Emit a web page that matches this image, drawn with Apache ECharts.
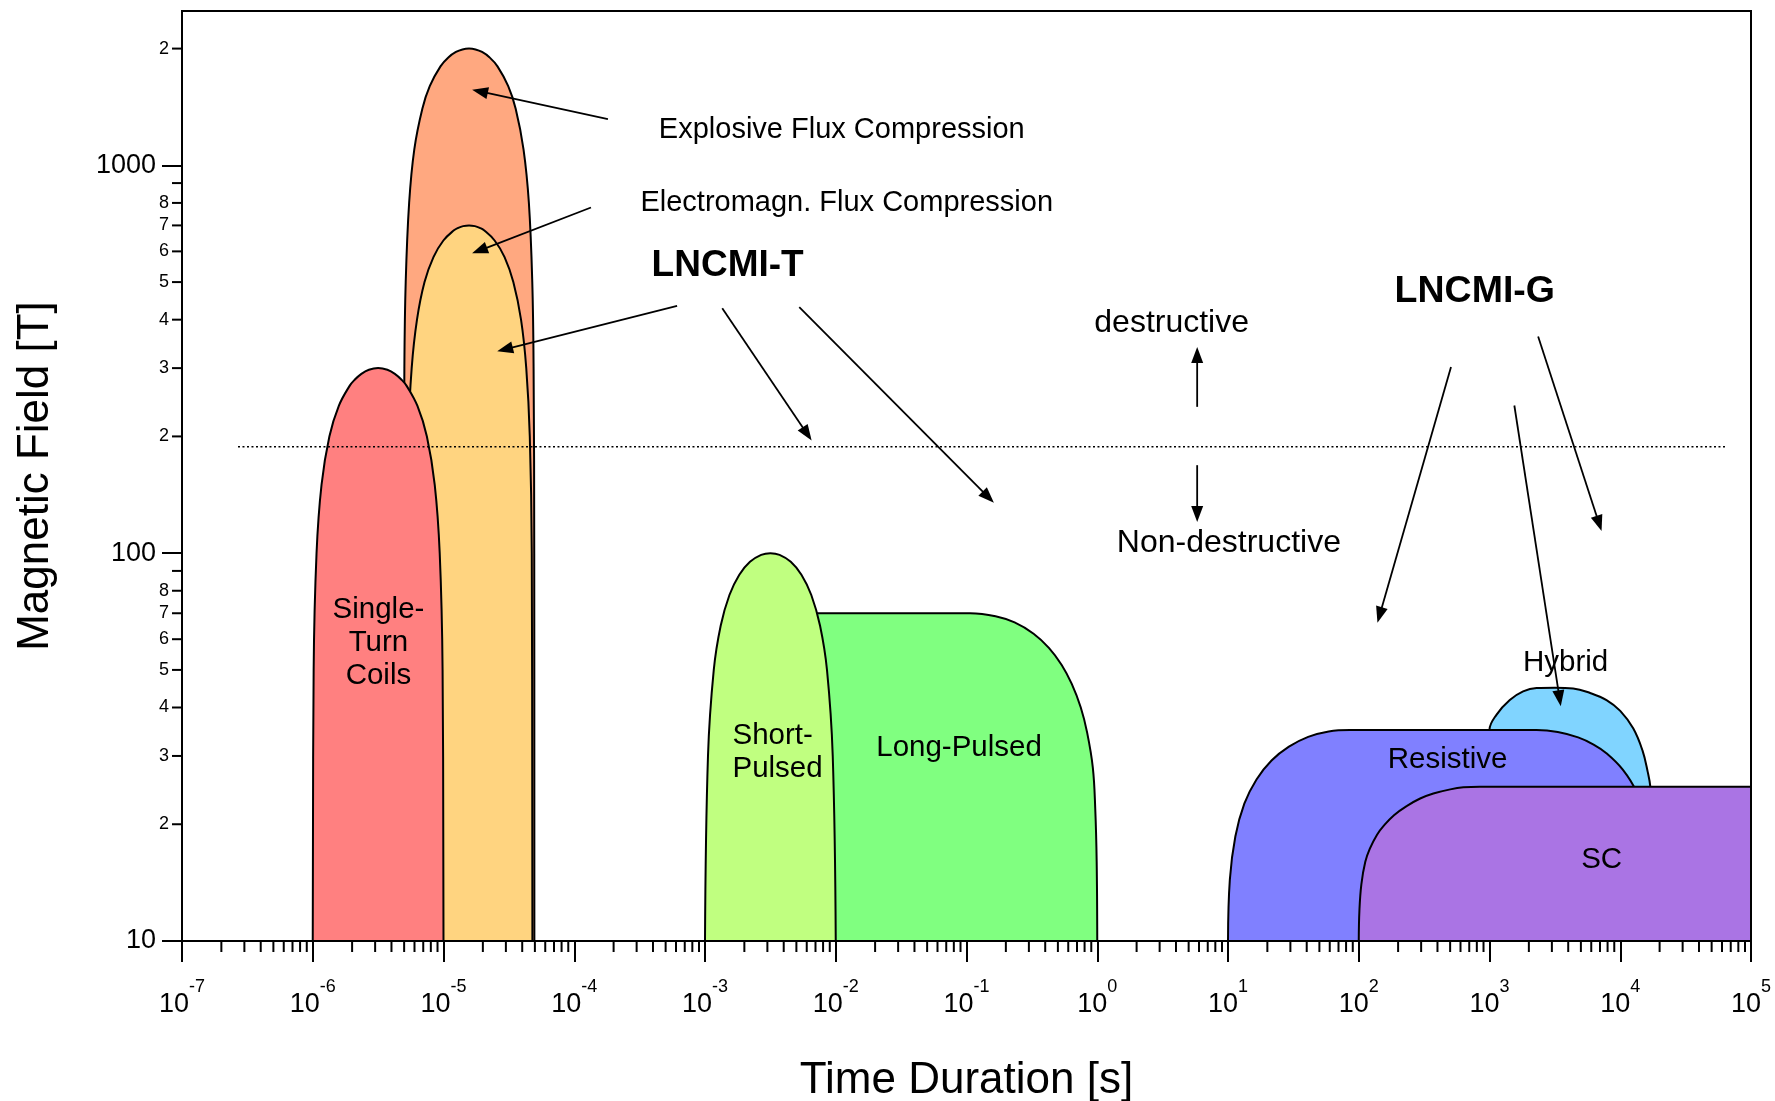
<!DOCTYPE html>
<html>
<head>
<meta charset="utf-8">
<script src="https://cdn.jsdelivr.net/npm/echarts@6/dist/echarts.min.js"></script>
<style>
  html, body { margin: 0; padding: 0; background: #fff; }
  #chart { width: 1775px; height: 1101px; }
</style>
</head>
<body>
<div id="chart"></div>
<script>
// Magnet technologies: pulse duration (s) against attainable field (T).
// Each region is an outline of [duration s, field T] points, left to right.
const explosiveFluxCompression = [
  [4.95e-6, 10], [4.97e-6, 100], [5.02e-6, 300], [5.14e-6, 500], [5.46e-6, 800],
  [5.98e-6, 1100], [6.89e-6, 1400], [7.85e-6, 1600], [9.48e-6, 1800], [1.094e-5, 1900],
  [1.245e-5, 1960], [1.396e-5, 1990], [1.567e-5, 2000], [1.758e-5, 1990], [1.972e-5, 1960],
  [2.244e-5, 1900], [2.588e-5, 1800], [3.126e-5, 1600], [3.565e-5, 1400], [4.093e-5, 1100],
  [4.498e-5, 800], [4.775e-5, 500], [4.887e-5, 300], [4.943e-5, 100], [4.955e-5, 10]
];
const emFluxCompression = [
  [5.13e-6, 10], [5.19e-6, 100], [5.37e-6, 200], [5.71e-6, 300], [6.27e-6, 400],
  [7.16e-6, 500], [8.38e-6, 580], [9.98e-6, 640], [1.202e-5, 680], [1.297e-5, 690],
  [1.413e-5, 697], [1.567e-5, 700], [1.738e-5, 697], [1.892e-5, 690], [2.042e-5, 680],
  [2.46e-5, 640], [2.931e-5, 580], [3.42e-5, 500], [3.917e-5, 400], [4.295e-5, 300],
  [4.571e-5, 200], [4.732e-5, 100], [4.786e-5, 10]
];
const singleTurnCoils = [
  [1.0e-6, 10], [1.016e-6, 50], [1.069e-6, 100], [1.167e-6, 150], [1.34e-6, 200],
  [1.585e-6, 240], [1.914e-6, 270], [2.092e-6, 280], [2.355e-6, 290], [2.688e-6, 297],
  [3.162e-6, 300], [3.72e-6, 297], [4.246e-6, 290], [4.779e-6, 280], [5.224e-6, 270],
  [6.31e-6, 240], [7.464e-6, 200], [8.57e-6, 150], [9.354e-6, 100], [9.84e-6, 50],
  [1.0e-5, 10]
];
const longPulsed = [
  [6.3e-3, 70], [0.03, 70], [0.07, 70], [0.1064, 70], [0.1667, 68.8], [0.2333, 66.3],
  [0.326, 62], [0.4266, 57], [0.5346, 51.5], [0.6383, 46], [0.7482, 40], [0.8363, 34.5],
  [0.925, 28], [0.965, 22], [0.99, 16], [1.0, 10]
];
const shortPulsed = [
  [1.0e-3, 10], [1.054e-3, 30], [1.167e-3, 50], [1.318e-3, 65], [1.538e-3, 78],
  [1.83e-3, 88], [2.208e-3, 95], [2.689e-3, 99], [3.162e-3, 100], [3.719e-3, 99],
  [4.529e-3, 95], [5.464e-3, 88], [6.501e-3, 78], [7.586e-3, 65], [8.57e-3, 50],
  [9.484e-3, 30], [1.0e-2, 10]
];
const hybrid = [
  [990, 30], [1000, 35.1], [1130, 38.3], [1429, 41.8], [1807, 44.0], [2291, 44.9],
  [3162, 45], [4365, 44.8], [5888, 43.6], [7852, 41.8], [10000, 39.2], [12590, 35.3],
  [14790, 31], [16220, 27.3], [16980, 25], [17580, 20], [17780, 10]
];
const resistive = [
  [10, 10], [10.33, 14.4], [11.38, 18.6], [13.33, 22.6], [16.52, 26.1], [21.53, 29.2],
  [29.24, 31.7], [41.02, 33.6], [58.9, 34.7], [85.5, 35], [150, 35], [1000, 35],
  [2291, 35], [3327, 34.6], [4764, 33.5], [6252, 32.1], [7834, 30.5], [10420, 27.7],
  [13240, 24.3], [17140, 18.6], [18880, 14.3], [19500, 10]
];
const superconducting = [
  [100, 10], [101.2, 12], [104.7, 14], [112.2, 16], [121.6, 17.3], [138, 18.8],
  [155, 19.8], [186, 21.1], [234, 22.3], [295, 23.3], [372, 24], [501, 24.6],
  [631, 24.9], [843, 25], [2000, 25], [1e5, 25]
];

// Boundary between destructive and non-destructive techniques
const destructiveLimit = [[2.68e-7, 188], [6.56e4, 188]];

// Axis ticks and labels
const xMajorTicks = [1e-7, 1e-6, 1e-5, 1e-4, 1e-3, 1e-2, 1e-1, 1, 10, 100, 1e3, 1e4, 1e5];
const xMinorTicks = [];
for (let d = -7; d < 5; d++) {
  for (let k = 2; k <= 9; k++) xMinorTicks.push(k * Math.pow(10, d));
}
const yMajorTicks = [10, 100, 1000];
const yMinorTicks = [20, 30, 40, 50, 60, 70, 80, 90, 200, 300, 400, 500, 600, 700, 800, 900, 2000];
const yLabelValues = [10, 20, 30, 40, 50, 60, 70, 80, 100, 200, 300, 400, 500, 600, 700, 800, 1000, 2000];

const FONT = '"Liberation Sans", Arial, Helvetica, sans-serif';

// Drawn back to front: each later region covers the ones before it
const regions = [
  { name: 'Explosive Flux Compression', data: explosiveFluxCompression, color: '#FFA880' },
  { name: 'Electromagn. Flux Compression', data: emFluxCompression, color: '#FFD480' },
  { name: 'Single-Turn Coils', data: singleTurnCoils, color: '#FF8080' },
  { name: 'Long-Pulsed', data: longPulsed, color: '#80FF80' },
  { name: 'Short-Pulsed', data: shortPulsed, color: '#C0FF80' },
  { name: 'Hybrid', data: hybrid, color: '#80D4FF' },
  { name: 'Resistive', data: resistive, color: '#8080FF' },
  { name: 'SC', data: superconducting, color: '#AA74E4' }
];

// Text annotations anchored in data space (centre of the text block)
const notes = [
  { text: 'Explosive Flux Compression', t: 0.01112, B: 1236, size: 29 },
  { text: 'Electromagn. Flux Compression', t: 0.01213, B: 798, size: 29 },
  { text: 'LNCMI-T', t: 1.49e-3, B: 551, size: 37, bold: true },
  { text: 'destructive', t: 3.707, B: 391, size: 32 },
  { text: 'Non-destructive', t: 10.16, B: 105.9, size: 32 },
  { text: 'LNCMI-G', t: 772, B: 473, size: 37.5, bold: true },
  { text: 'Single-\nTurn\nCoils', t: 3.18e-6, B: 58.6, size: 29.5, lineHeight: 33 },
  { text: 'Short-\nPulsed', t: 1.622e-3, B: 30.7, size: 29.5, lineHeight: 33, align: 'left' },
  { text: 'Long-Pulsed', t: 0.0877, B: 31.4, size: 29.5 },
  { text: 'Hybrid', t: 3819, B: 52.06, size: 29.5 },
  { text: 'Resistive', t: 477.5, B: 29.3, size: 29.5 },
  { text: 'SC', t: 7211, B: 16.17, size: 29.5 }
];

// Arrows: [from t, from B, to t, to B]
const arrows = [
  [1.81e-4, 1315, 1.655e-5, 1567],
  [1.343e-4, 778.6, 1.655e-5, 593],
  [6.12e-4, 434, 2.575e-5, 331.6],
  [1.355e-3, 428, 6.54e-3, 195.2],
  [5.26e-3, 431, 0.162, 134.9],
  [5.81, 238.4, 5.81, 340.2],
  [5.81, 168.6, 5.81, 120.4],
  [507.7, 302, 139, 66.2],
  [1549, 240.3, 3508, 40.3],
  [2355, 362, 7194, 114]
];

const chart = echarts.init(document.getElementById('chart'), null, { renderer: 'canvas' });

const series = regions.map((r, i) => ({
  type: 'line',
  name: r.name,
  data: r.data,
  smooth: 0.4,
  symbol: 'none',
  silent: true,
  lineStyle: { color: '#000', width: 2 },
  areaStyle: { color: r.color, opacity: 1, origin: 'start' },
  z: 2 + i
}));

series.push({
  type: 'line',
  name: 'limit',
  data: destructiveLimit,
  symbol: 'none',
  silent: true,
  lineStyle: { color: '#000', width: 1.5, type: [2, 2.5] },
  z: 11
});

// Minor ticks on the bottom axis
series.push({
  type: 'custom',
  silent: true,
  clip: false,
  z: 20,
  data: xMinorTicks.map(v => [v, 10]),
  encode: { x: 0, y: 1 },
  renderItem: (params, api) => {
    const p = api.coord([api.value(0), api.value(1)]);
    return { type: 'line', shape: { x1: p[0], y1: p[1], x2: p[0], y2: p[1] + 11 },
             style: { stroke: '#000', lineWidth: 2 } };
  }
});

// Minor ticks on the left axis
series.push({
  type: 'custom',
  silent: true,
  clip: false,
  z: 20,
  data: yMinorTicks.map(v => [1e-7, v]),
  encode: { x: 0, y: 1 },
  renderItem: (params, api) => {
    const p = api.coord([api.value(0), api.value(1)]);
    return { type: 'line', shape: { x1: p[0] - 10, y1: p[1], x2: p[0], y2: p[1] },
             style: { stroke: '#000', lineWidth: 2 } };
  }
});

// Annotation arrows
series.push({
  type: 'custom',
  silent: true,
  clip: false,
  z: 30,
  data: arrows,
  encode: { x: [0, 2], y: [1, 3] },
  renderItem: (params, api) => {
    const a = api.coord([api.value(0), api.value(1)]);
    const b = api.coord([api.value(2), api.value(3)]);
    const dx = b[0] - a[0], dy = b[1] - a[1];
    const len = Math.sqrt(dx * dx + dy * dy);
    const ux = dx / len, uy = dy / len;
    const L = 16, W = 6;
    const bx = b[0] - ux * L, by = b[1] - uy * L;
    return {
      type: 'group',
      children: [
        { type: 'line', shape: { x1: a[0], y1: a[1], x2: bx + ux * 2, y2: by + uy * 2 },
          style: { stroke: '#000', lineWidth: 1.8 } },
        { type: 'polygon', shape: { points: [[b[0], b[1]], [bx - uy * W, by + ux * W], [bx + uy * W, by - ux * W]] },
          style: { fill: '#000' } }
      ]
    };
  }
});

// Text annotations
series.push({
  type: 'custom',
  silent: true,
  clip: false,
  z: 30,
  data: notes.map(n => [n.t, n.B]),
  encode: { x: 0, y: 1 },
  renderItem: (params, api) => {
    const n = notes[params.dataIndex];
    const p = api.coord([api.value(0), api.value(1)]);
    return {
      type: 'text',
      x: p[0], y: p[1],
      style: {
        text: n.text,
        fontSize: n.size,
        fontFamily: FONT,
        fontWeight: n.bold ? 'bold' : 'normal',
        lineHeight: n.lineHeight || n.size,
        fill: '#000',
        align: n.align || 'center',
        verticalAlign: 'middle'
      }
    };
  }
});

chart.setOption({
  animation: false,
  backgroundColor: '#fff',
  grid: {
    left: 182, top: 11, width: 1569, height: 930,
    show: true, borderColor: '#000', borderWidth: 2, z: 15,
    containLabel: false, outerBoundsMode: 'none'
  },
  xAxis: {
    type: 'log',
    logBase: 10,
    min: 1e-7,
    max: 1e5,
    z: 16,
    name: 'Time Duration [s]',
    nameLocation: 'middle',
    nameGap: 118,
    nameMoveOverlap: false,
    nameTextStyle: { fontSize: 44, fontFamily: FONT, color: '#000' },
    axisLine: { onZero: false, lineStyle: { color: '#000', width: 2 } },
    axisTick: { customValues: xMajorTicks, length: 21, lineStyle: { color: '#000', width: 2 } },
    splitLine: { show: false },
    axisLabel: {
      customValues: xMajorTicks,
      margin: 37,
      hideOverlap: false,
      formatter: v => '{b|10}{e|' + Math.round(Math.log10(v)) + '}',
      rich: {
        b: { fontSize: 27, verticalAlign: 'bottom', fontFamily: FONT, color: '#000' },
        e: { fontSize: 18, verticalAlign: 'bottom', padding: [0, 0, 22, 0], fontFamily: FONT, color: '#000' }
      }
    }
  },
  yAxis: {
    type: 'log',
    logBase: 10,
    min: 10,
    max: 2500,
    z: 16,
    name: 'Magnetic Field [T]',
    nameLocation: 'middle',
    nameRotate: 90,
    nameGap: 124,
    nameMoveOverlap: false,
    nameTextStyle: { fontSize: 44, fontFamily: FONT, color: '#000' },
    axisLine: { onZero: false, lineStyle: { color: '#000', width: 2 } },
    axisTick: { customValues: yMajorTicks, length: 20, lineStyle: { color: '#000', width: 2 } },
    splitLine: { show: false },
    axisLabel: {
      customValues: yLabelValues,
      margin: 13,
      hideOverlap: false,
      formatter: v => {
        const r = Math.round(v);
        return yMajorTicks.indexOf(r) >= 0 ? '{big|' + r + '}' : '{small|' + String(r)[0] + '}';
      },
      rich: {
        big: { fontSize: 27, padding: [0, 13, 0, 0], fontFamily: FONT, color: '#000' },
        small: { fontSize: 18, fontFamily: FONT, color: '#000' }
      }
    }
  },
  series: series
});
</script>
</body>
</html>
